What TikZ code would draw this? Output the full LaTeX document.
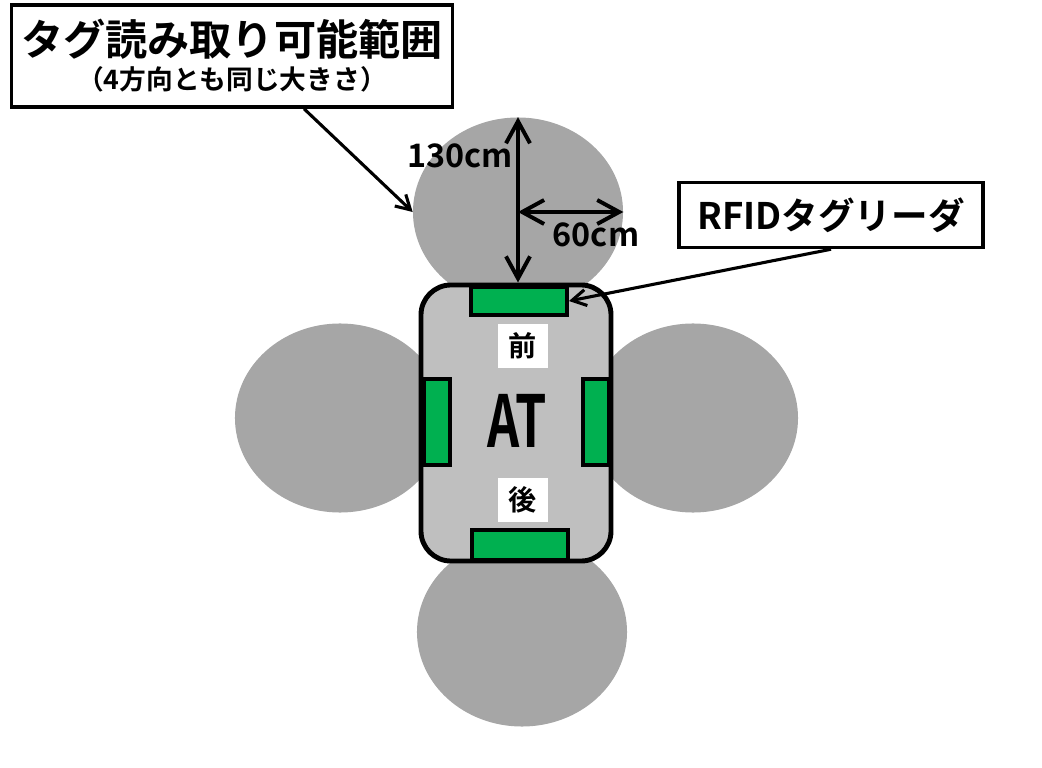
\documentclass[tikz,border=0pt]{standalone}
\usepackage{fontspec}
\setmainfont{Noto Sans CJK JP}[BoldFont={Noto Sans CJK JP Bold}]
\usetikzlibrary{arrows.meta,shapes.geometric}
\definecolor{rangegray}{HTML}{A6A6A6}
\definecolor{bodygray}{HTML}{BFBFBF}
\definecolor{sensgreen}{HTML}{00B050}

\begin{document}
\begin{tikzpicture}[x=0.025cm, y=-0.025cm,
    readzone/.style={ellipse, fill=rangegray, inner sep=0pt, minimum width=52.5mm, minimum height=47.25mm},
    sensor/.style={draw, line width=2.8pt, fill=sensgreen, inner sep=0pt},
    side/.style={fill=white, inner sep=0pt, minimum width=12.5mm, minimum height=11mm, font=\fontsize{20}{24}\selectfont\bfseries},
    callout/.style={draw, line width=2.5pt, fill=white, inner sep=0pt, align=center},
    dim/.style={line width=2.8pt, {Straight Barb[length=5.5mm,width=6mm]}-{Straight Barb[length=5.5mm,width=6mm]}},
    pointer/.style={line width=2.2pt, -{Straight Barb[length=3.5mm,width=4mm]}},
    dimlabel/.style={font=\fontsize{23}{26}\selectfont\bfseries}
]
\useasboundingbox (0,0) rectangle (1042,768);

% reading ranges
\node[readzone] (rangeN) at (518,212) {};
\node[readzone] (rangeS) at (522,632) {};
\node[readzone] (rangeW) at (340,418) {};
\node[readzone] (rangeE) at (693,418) {};

% vehicle body
\node[draw, line width=3.5pt, fill=bodygray, rounded corners=7.5mm,
      minimum width=47.5mm, minimum height=69mm] (robot) at (516,423) {};

\node[sensor, minimum width=24mm, minimum height=7mm] (sensN) at (519,301) {};
\node[sensor, minimum width=24mm, minimum height=7.5mm] (sensS) at (520,545) {};
\node[sensor, minimum width=6.5mm, minimum height=21.5mm] (sensW) at (437,422) {};
\node[sensor, minimum width=6.5mm, minimum height=21.5mm] (sensE) at (596,422) {};

\node[side] (front) at (523,346) {前};
\node[side] (rear) at (523,500) {後};
\node[font=\fontsize{51}{56}\selectfont\bfseries] (name) at (517,421) {\scalebox{0.7}[1]{AT}};

% dimensions
\draw[dim] (rangeN.north) -- (rangeN.north |- robot.north);
\draw[dim] (rangeN.center) -- (rangeN.east);
\node[dimlabel] (len) at (460,156) {130cm};
\node[dimlabel] (wid) at (596,235) {60cm};

% callouts
\node[callout, minimum width=110.25mm, minimum height=25.5mm] (rangelbl) at (232,56)
    {{\fontsize{30}{30}\selectfont\bfseries タグ読み取り可能範囲}\\[4pt]
     {\fontsize{19}{22}\selectfont\bfseries （4方向とも同じ大きさ）}};
\node[callout, minimum width=76mm, minimum height=16.25mm] (reader) at (831,215)
    {\fontsize{26}{30}\selectfont\bfseries RFIDタグリーダ};

\draw[pointer] ([xshift=18mm]rangelbl.south) -- (rangeN.west);
\draw[pointer] (reader.south) -- (sensN.east);

\end{tikzpicture}
\end{document}
